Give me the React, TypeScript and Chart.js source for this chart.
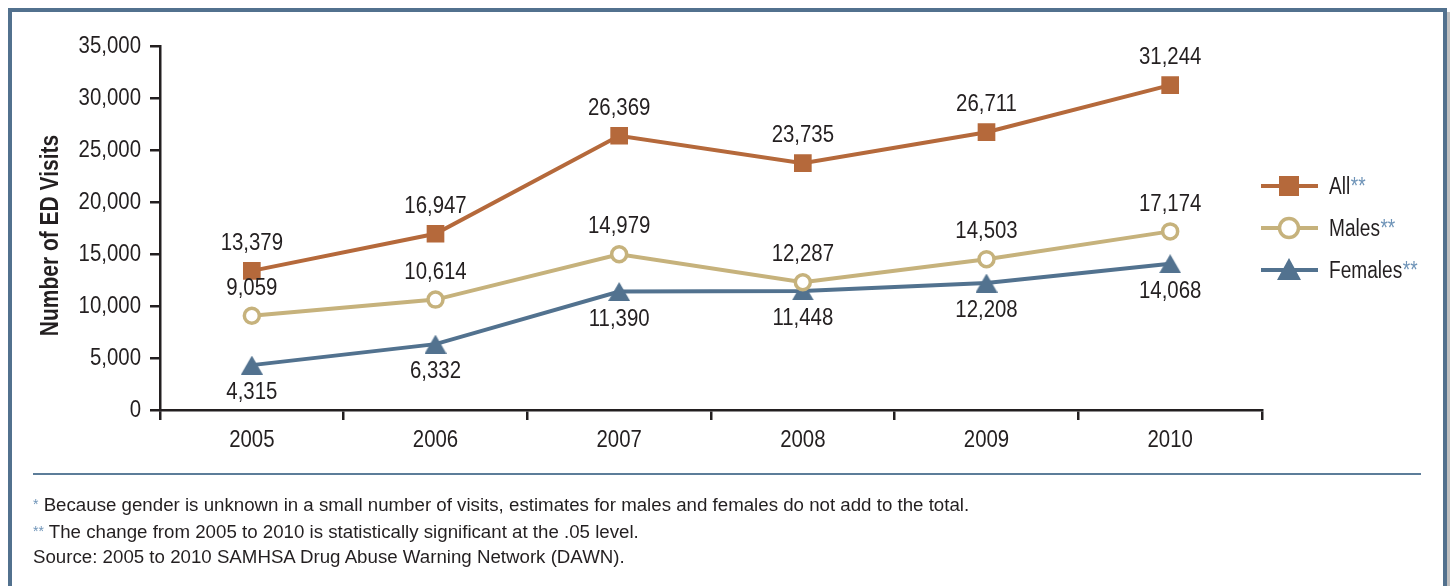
import React, { useEffect, useRef } from "react";
import { Chart, registerables } from "chart.js";

Chart.register(...registerables);

const years = ["2005", "2006", "2007", "2008", "2009", "2010"];
const allVisits = [13379, 16947, 26369, 23735, 26711, 31244];
const maleVisits = [9059, 10614, 14979, 12287, 14503, 17174];
const femaleVisits = [4315, 6332, 11390, 11448, 12208, 14068];
const seriesNames = ["All", "Males", "Females"];
const yTicks = [0, 5000, 10000, 15000, 20000, 25000, 30000, 35000];
const yTitle = "Number of ED Visits";
const footnotes = [
  { mark: "*", text: " Because gender is unknown in a small number of visits, estimates for males and females do not add to the total." },
  { mark: "**", text: " The change from 2005 to 2010 is statistically significant at the .05 level." },
  { mark: "", text: "Source: 2005 to 2010 SAMHSA Drug Abuse Warning Network (DAWN)." },
];

const ALL_COLOR = "#B5693B";
const MALE_COLOR = "#C6B27C";
const FEMALE_COLOR = "#52728F";
const TEXT = "#231F20";
const FRAME = "#52718E";
const STAR = "#6F94B8";
const SANS = "'Liberation Sans', Arial, Helvetica, sans-serif";
const NARROW_SCALE = 0.85;

function fmt(v: number) {
  return Number(v).toLocaleString("en-US");
}

// Draw text in a condensed look by horizontally scaling a regular sans face.
function narrowText(
  ctx: CanvasRenderingContext2D,
  text: string,
  x: number,
  y: number,
  size: number,
  align: CanvasTextAlign,
  baseline: CanvasTextBaseline,
  color: string,
  bold = false,
  scale = NARROW_SCALE
) {
  ctx.save();
  ctx.translate(x, y);
  ctx.scale(scale, 1);
  ctx.font = `${bold ? "bold " : ""}${size}px ${SANS}`;
  ctx.fillStyle = color;
  ctx.textAlign = align;
  ctx.textBaseline = baseline;
  ctx.fillText(text, 0, 0);
  const w = ctx.measureText(text).width * scale;
  ctx.restore();
  return w;
}

function makeTriangle(w: number, h: number, color: string) {
  const c = document.createElement("canvas");
  c.width = w;
  c.height = h;
  const ctx = c.getContext("2d")!;
  ctx.fillStyle = color;
  ctx.beginPath();
  ctx.moveTo(w / 2, 0);
  ctx.lineTo(w, h);
  ctx.lineTo(0, h);
  ctx.closePath();
  ctx.fill();
  return c;
}

export default function App() {
  const ref = useRef<HTMLCanvasElement | null>(null);

  useEffect(() => {
    const canvas = ref.current!;
    const tri = makeTriangle(22, 19, FEMALE_COLOR);
    const triLegend = makeTriangle(24, 22, FEMALE_COLOR);

    const textPlugin = {
      id: "textLayer",
      afterDraw(chart: any) {
        const ctx = chart.ctx as CanvasRenderingContext2D;
        const xs = chart.scales.x;
        const ys = chart.scales.y;
        // y tick labels
        ys.ticks.forEach((t: any) => {
          narrowText(ctx, fmt(t.value), xs.left - 19, ys.getPixelForValue(t.value), 24, "right", "middle", TEXT);
        });
        // x tick labels
        years.forEach((lab, i) => {
          narrowText(ctx, lab, xs.getPixelForValue(i), ys.bottom + 30, 24, "center", "middle", TEXT);
        });
        // y title
        ctx.save();
        ctx.translate(58, 235.5);
        ctx.rotate(-Math.PI / 2);
        narrowText(ctx, yTitle, 0, 0, 25, "center", "alphabetic", TEXT, true, 0.84);
        ctx.restore();
        // value labels
        chart.data.datasets.forEach((ds: any, i: number) => {
          const meta = chart.getDatasetMeta(i);
          const dir = i === 2 ? 1 : -1;
          meta.data.forEach((pt: any, j: number) => {
            narrowText(ctx, fmt(ds.data[j]), pt.x, pt.y + dir * 27.5, 24, "center", "middle", TEXT);
          });
        });
        // legend
        chart.data.datasets.forEach((ds: any, i: number) => {
          const y = 186 + i * 42;
          ctx.save();
          ctx.strokeStyle = ds.borderColor;
          ctx.lineWidth = 4;
          ctx.beginPath();
          ctx.moveTo(1261, y);
          ctx.lineTo(1318, y);
          ctx.stroke();
          if (i === 0) {
            ctx.fillStyle = ds.borderColor;
            ctx.fillRect(1279, y - 10, 20, 20);
          } else if (i === 1) {
            ctx.fillStyle = "#ffffff";
            ctx.lineWidth = 3.5;
            ctx.beginPath();
            ctx.arc(1289, y, 9.5, 0, Math.PI * 2);
            ctx.fill();
            ctx.stroke();
          } else {
            ctx.drawImage(triLegend, 1289 - 12, y - 12);
          }
          ctx.restore();
          const name = seriesNames[i];
          const w = narrowText(ctx, name, 1329, y + 7.5, 23, "left", "alphabetic", TEXT, false, 0.83);
          narrowText(ctx, "**", 1329 + w + 0.5, y + 7.5, 23, "left", "alphabetic", STAR, false, 0.83);
        });
      },
    };

    const chart = new Chart(canvas, {
      type: "line",
      data: {
        labels: years,
        datasets: [
          {
            label: seriesNames[0],
            data: allVisits,
            borderColor: ALL_COLOR,
            backgroundColor: ALL_COLOR,
            borderWidth: 4,
            pointStyle: "rect",
            pointRadius: 12.5,
            pointBorderWidth: 0,
            tension: 0,
          },
          {
            label: seriesNames[1],
            data: maleVisits,
            borderColor: MALE_COLOR,
            backgroundColor: "#ffffff",
            borderWidth: 4,
            pointStyle: "circle",
            pointRadius: 7.5,
            pointBorderWidth: 3.5,
            tension: 0,
          },
          {
            label: seriesNames[2],
            data: femaleVisits,
            borderColor: FEMALE_COLOR,
            backgroundColor: FEMALE_COLOR,
            borderWidth: 4,
            pointStyle: tri as any,
            pointRadius: 11,
            tension: 0,
          },
        ],
      },
      options: {
        responsive: false,
        animation: false,
        devicePixelRatio: 1,
        layout: { padding: { left: 0, top: 46, right: 188, bottom: 116 } },
        plugins: {
          legend: { display: false },
          tooltip: { enabled: false },
          title: { display: false },
        },
        scales: {
          x: {
            type: "category",
            offset: true,
            grid: {
              offset: true,
              drawOnChartArea: false,
              tickLength: 10,
              color: TEXT,
              lineWidth: 2.5,
            },
            border: { color: TEXT, width: 2.5 },
            ticks: { display: false },
            afterFit: (s: any) => {
              s.height = 60;
            },
          },
          y: {
            min: 0,
            max: 35000,
            afterBuildTicks: (s: any) => {
              s.ticks = yTicks.map((v) => ({ value: v }));
            },
            grid: {
              drawOnChartArea: false,
              tickLength: 10,
              color: TEXT,
              lineWidth: 2.5,
            },
            border: { color: TEXT, width: 2.5 },
            ticks: { display: false },
            afterFit: (s: any) => {
              s.width = 160;
            },
          },
        },
      },
      plugins: [textPlugin],
    });
    return () => chart.destroy();
  }, []);

  return (
    <div style={{ position: "absolute", left: 0, top: 0, width: 1450, height: 586, overflow: "hidden", background: "#ffffff" }}>
      <div
        style={{
          position: "absolute",
          left: 8,
          top: 8,
          width: 1439,
          height: 620,
          boxSizing: "border-box",
          borderTop: `4px solid ${FRAME}`,
          borderLeft: `4px solid ${FRAME}`,
          borderRight: `4px solid ${FRAME}`,
        }}
      />
      <div style={{ position: "absolute", left: 1447, top: 12, width: 3, height: 600, background: "#BFBFBF" }} />
      <canvas ref={ref} width={1450} height={586} style={{ position: "absolute", left: 0, top: 0, width: 1450, height: 586 }} />
      <div style={{ position: "absolute", left: 33, top: 473, width: 1388, height: 2, background: "#5C7D99" }} />
      {footnotes.map((f, i) => (
        <div
          key={i}
          style={{
            position: "absolute",
            left: 33,
            top: 494 + i * 26.5,
            lineHeight: "20px",
            fontFamily: SANS,
            fontSize: 18.7,
            color: TEXT,
            whiteSpace: "nowrap",
          }}
        >
          {f.mark && <span style={{ color: STAR, fontSize: 14, verticalAlign: "2px" }}>{f.mark}</span>}
          {f.text}
        </div>
      ))}
    </div>
  );
}
